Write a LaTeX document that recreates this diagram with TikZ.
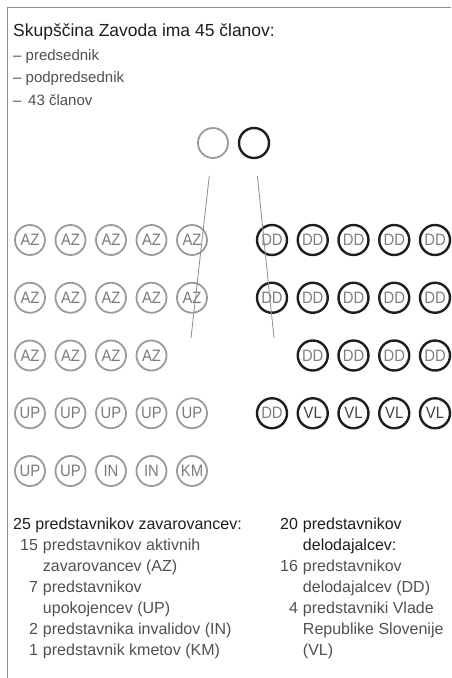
\documentclass[tikz,border=0pt]{standalone}
\usepackage{fontspec}
\setmainfont{Liberation Sans}
\newfontfamily\circfont{Liberation Sans}[FakeStretch=0.9]
\usetikzlibrary{positioning}
\definecolor{Zav}{HTML}{9A9A9A}
\definecolor{ZavText}{HTML}{7A7A7A}
\definecolor{Del}{HTML}{1E1E1E}
\definecolor{DelText}{HTML}{808080}
\definecolor{Ink}{HTML}{1E1E1E}
\definecolor{Body}{HTML}{505050}
\definecolor{Rule}{HTML}{8C8C8C}
\tikzset{
  zav/.style={circle,draw=Zav,line width=1.8pt,minimum size=30pt,inner sep=0pt,text=ZavText,font=\circfont\fontsize{16.5}{16.5}\selectfont},
  del/.style={zav,draw=Del,line width=2.4pt,text=DelText},
  vlada/.style={del,text=Del!85},
  link/.style={draw=Rule,line width=.8pt,shorten <=17pt},
  frame/.style={draw=Rule,line width=1pt},
  title/.style={anchor=base west,inner sep=0pt,text=Ink,font=\fontsize{17.5}{21}\selectfont},
  body/.style={anchor=base west,inner sep=0pt,text=Body,font=\fontsize{15}{22.5}\selectfont},
  col/.style={anchor=base west,inner sep=0pt,text=Body,font=\fontsize{16}{21}\selectfont}
}

\begin{document}
\begin{tikzpicture}[x=1pt,y=-1pt]
  \useasboundingbox (0,0) rectangle (451,678);
  \coordinate (tl) at (7,7); \coordinate (tr) at (451,7); \coordinate (bl) at (7,678);
  \draw[frame] (tr) -- (tl) -- (bl);

  % heading and list
  \node[title] (head) at (13,36) {Skupščina Zavoda ima 45 članov:};
  \node[body] (list) at (13,60) {\begin{tabular}[t]{@{}l@{}}
    – predsednik\\
    – podpredsednik\\
    – \,43 članov
  \end{tabular}};

  % president and vice president
  \node[zav] (pres) at (213,143) {};
  \node[del] (vpres) at (254,143) {};
  \coordinate (zavEnd) at (191,338);
  \coordinate (delEnd) at (274,338);

  % insured (left block)
  \foreach \lab [count=\c from 0] in {AZ,AZ,AZ,AZ,AZ}
    \node[zav] (z1-\c) at (30+40.5*\c,240) {\lab};
  \foreach \lab [count=\c from 0] in {AZ,AZ,AZ,AZ,AZ}
    \node[zav] (z2-\c) at (30+40.5*\c,297.75) {\lab};
  \foreach \lab [count=\c from 0] in {AZ,AZ,AZ,AZ}
    \node[zav] (z3-\c) at (30+40.5*\c,355.5) {\lab};
  \foreach \lab [count=\c from 0] in {UP,UP,UP,UP,UP}
    \node[zav] (z4-\c) at (30+40.5*\c,413.25) {\lab};
  \foreach \lab [count=\c from 0] in {UP,UP,IN,IN,KM}
    \node[zav] (z5-\c) at (30+40.5*\c,471) {\lab};

  % employers (right block)
  \foreach \c in {0,...,4}
    \node[del] (d1-\c) at (272+40.75*\c,240) {DD};
  \foreach \c in {0,...,4}
    \node[del] (d2-\c) at (272+40.75*\c,297.75) {DD};
  \foreach \c in {1,...,4}
    \node[del] (d3-\c) at (272+40.75*\c,355.5) {DD};
  \node[del] (d4-0) at (272,413.25) {DD};
  \foreach \c in {1,...,4}
    \node[vlada] (d4-\c) at (272+40.75*\c,413.25) {VL};

  \draw[link] (pres) -- (zavEnd);
  \draw[link] (vpres) -- (delEnd);

  % legends
  \node[col] (zavLeg) at (13,529) {\begin{tabular}[t]{@{\hspace{7pt}}r@{\hspace{5pt}}l@{}}
    \multicolumn{2}{@{}l@{}}{\textcolor{Ink}{25 predstavnikov zavarovancev:}}\\
    15 & predstavnikov aktivnih\\
       & zavarovancev (AZ)\\
    7  & predstavnikov\\
       & upokojencev (UP)\\
    2  & predstavnika invalidov (IN)\\
    1  & predstavnik kmetov (KM)
  \end{tabular}};
  \node[col] (delLeg) at (280,529) {\begin{tabular}[t]{@{}r@{\hspace{5pt}}l@{}}
    \textcolor{Ink}{20} & \textcolor{Ink}{predstavnikov}\\
       & \textcolor{Ink}{delodajalcev:}\\
    16 & predstavnikov\\
       & delodajalcev (DD)\\
    4  & predstavniki Vlade\\
       & Republike Slovenije\\
       & (VL)
  \end{tabular}};
\end{tikzpicture}
\end{document}
